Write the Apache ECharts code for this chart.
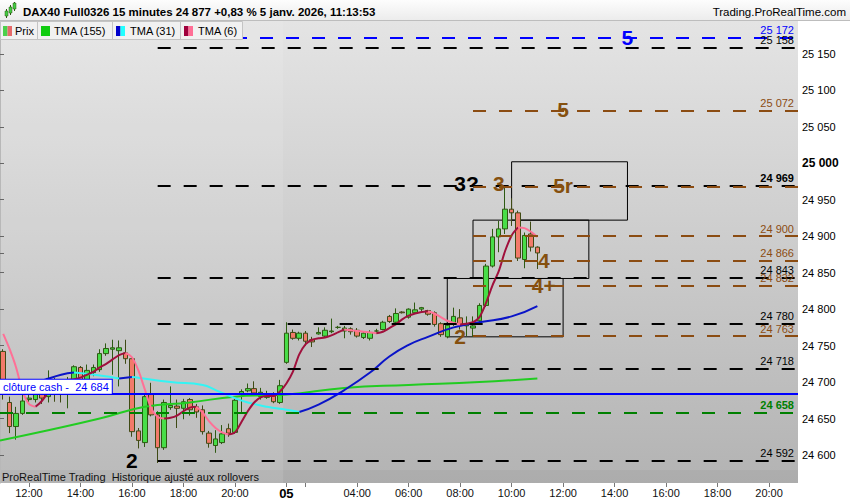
<!DOCTYPE html>
<html><head><meta charset="utf-8">
<script src="https://cdn.jsdelivr.net/npm/echarts@6/dist/echarts.min.js"></script>
<style>html,body{margin:0;padding:0;background:#fff}#c{width:850px;height:500px}</style>
</head><body><div id="c"></div>
<script>
const FONT = '"Liberation Sans", Arial, sans-serif';

// ---------- categories (15-minute bars, two sessions) ----------
function pad(n){ return (n < 10 ? '0' : '') + n; }
function buildTimes(day, h, m, count){
  const out = []; let t = h * 60 + m;
  for (let k = 0; k < count; k++) { out.push(day + ' ' + pad(Math.floor(t / 60)) + ':' + pad(t % 60)); t += 15; }
  return out;
}
const categories = buildTimes('02', 11, 0, 44).concat(buildTimes('05', 1, 15, 80));
const DAY2_START = 44;

// ---------- candles ----------
const candleOpen  = [24742,24672,24639,24657,24676,24676,24683,24680,24700,24690,24688,24703,24720,24703,24713,24717,24739,24745,24743,24740,24732,24633,24617,24683,24655,24610,24665,24667,24664,24676,24666,24662,24630,24613,24617,24636,24631,24683,24688,24691,24680,24679,24681,24672,24727,24768,24760,24767,24758,24766,24763,24769,24775,24770,24773,24771,24761,24760,24770,24772,24790,24782,24796,24789,24795,24800,24798,24795,24780,24762,24781,24788,24777,24774,24784,24805,24859,24899,24910,24937,24932,24868,24903,24885];
const candleClose = [24683,24639,24657,24674,24678,24683,24678,24705,24690,24685,24695,24721,24703,24716,24720,24739,24746,24747,24747,24732,24632,24620,24680,24655,24610,24672,24668,24664,24673,24662,24659,24632,24616,24622,24629,24630,24675,24687,24691,24685,24686,24684,24673,24695,24767,24760,24767,24756,24755,24768,24771,24770,24775,24774,24769,24763,24767,24768,24770,24782,24783,24794,24795,24800,24799,24802,24793,24779,24765,24778,24790,24779,24779,24777,24805,24859,24899,24910,24937,24932,24870,24901,24885,24877];
const candleLow   = [24676,24630,24621,24655,24672,24672,24670,24672,24673,24672,24664,24695,24690,24698,24708,24714,24736,24710,24694,24725,24625,24609,24611,24653,24589,24607,24662,24637,24649,24654,24651,24628,24610,24603,24615,24625,24629,24659,24686,24681,24676,24677,24671,24670,24725,24758,24757,24750,24748,24765,24761,24767,24773,24760,24765,24761,24759,24757,24766,24771,24781,24781,24794,24787,24794,24795,24791,24776,24762,24760,24777,24772,24763,24762,24779,24803,24857,24878,24903,24914,24866,24856,24879,24855];
const candleHigh  = [24745,24680,24666,24683,24685,24690,24690,24716,24706,24692,24707,24723,24722,24724,24724,24745,24753,24758,24757,24758,24734,24637,24683,24699,24660,24676,24694,24676,24677,24678,24670,24668,24633,24634,24641,24643,24677,24690,24698,24701,24692,24688,24686,24703,24782,24772,24769,24770,24762,24775,24775,24787,24777,24777,24775,24774,24769,24771,24773,24784,24792,24801,24797,24801,24809,24803,24799,24797,24782,24780,24802,24800,24790,24790,24808,24862,24910,24921,24969,24952,24935,24905,24920,24886];
const lastPrice = 24877;

// ---------- moving averages ----------
const tma6 = [24766,24745,24720,24688,24670,24666,24674,24686,24695,24701,24703,24704,24706,24710,24714,24720,24725,24731,24737,24740,24734,24716,24690,24664,24652,24650,24651,24654,24660,24665,24666,24658,24646,24637,24631,24628,24631,24645,24660,24672,24679,24681,24681,24687,24698,24714,24738,24752,24758,24760,24761,24764,24768,24772,24771,24770,24769,24768,24767,24769,24774,24779,24786,24791,24794,24796,24797,24794,24789,24784,24781,24779,24780,24782,24789,24808,24832,24852,24880,24901,24912,24911,24906,24899];
const tma31Idx = [0,3,6,9,11,15,18,20,21,26,31,33,36,38,41,44,46,49,53,57,60,63,66,70,74,79,83];
const tma31Val = [24690,24696,24702,24710,24713,24709,24705,24707,24706,24700,24696,24689,24678,24672,24666,24662,24659,24669,24689,24713,24735,24751,24762,24775,24782,24790,24804];
const tma155Idx = [0,7,15,22,29,36,44,53,63,74,83];
const tma155Val = [24620,24634,24650,24666,24672,24680,24683,24692,24696,24700,24705];

// ---------- horizontal levels ----------
const levelValues = [25172,25158,25072,24969,24968,24900,24866,24843,24832,24780,24763,24718,24684,24658,24592];
const levelKinds  = ['blue','black','brown','black','brownNoLabel','brown','brown','black','brown','black','brown','black','cash','green','black'];

// ---------- boxes ----------
const boxFrom = [69, 73, 79];
const boxTo   = [87, 91, 97];
const boxLow  = [24762, 24842, 24922];
const boxHigh = [24842, 24922, 25002];

// ---------- annotations ----------
const annotText  = ['2','3?','3','5r','4','4+','2','5','5'];
const annotIdx   = [20,72,77,87,84,84,71,87,97];
const annotValue = [24592,24972,24972,24970,24867,24832,24762,25073,25173];
const annotKinds = ['black','black','brown','brown','brown','brown','brown','brown','blue'];

const priceTicks = [24600,24650,24700,24750,24800,24850,24900,24950,25000,25050,25100,25150];
const Y_MIN = 24561.6, Y_MAX = 25195;

// ---------- styles ----------
const BROWN = '#85500f';
const ANNOT_COLORS = {black:'#000000', brown:BROWN, blue:'#0000ff'};
const LEVEL_STYLE = {
  blue:  {color:'#0000ff', type:[13,13], from:0,    label:true,  bold:false},
  black: {color:'#000000', type:[13,13], from:24.5, label:true,  bold:false},
  brown: {color:'#8b4c12', type:[13,13], from:73.5, label:true,  bold:false},
  brownNoLabel: {color:'#8b4c12', type:[13,13], from:73.5, label:false, bold:false},
  green: {color:'#008000', type:[13,13], from:0,    label:true,  bold:true},
  cash:  {color:'#0000ff', type:'solid', from:0,    label:true,  bold:false}
};
function fmt(v){ const s = String(Math.round(v)); return s.slice(0, s.length - 3) + ' ' + s.slice(-3); }

function splitRuns(pos, vals){
  const up = [], down = [];
  for (let k = 1; k < vals.length; k++) {
    const rising = vals[k] >= vals[k - 1];
    const target = rising ? up : down;
    const last = target[target.length - 1];
    if (!last || last[0] !== pos[k - 1] || last[1] === '-') {
      if (target.length) target.push([pos[k - 1], '-']);
      target.push([pos[k - 1], vals[k - 1]]);
    }
    target.push([pos[k], vals[k]]);
  }
  return {up, down};
}

const candleData = candleOpen.map((o, i) => [o, candleClose[i], candleLow[i], candleHigh[i]]);
const tma6Runs = splitRuns(tma6.map((v, i) => i + 0.5), tma6);
const tma31Runs = splitRuns(tma31Idx.map(i => i + 0.5), tma31Val);
const tma155Data = tma155Idx.map((i, k) => [i === 0 ? 0 : i + 0.5, tma155Val[k]]);

const levelLines = [], cashLines = [];
levelValues.forEach((v, k) => {
  const kind = levelKinds[k], st = LEVEL_STYLE[kind];
  if (kind === 'cash') {
    cashLines.push([{coord:[st.from, v], lineStyle:{color:st.color, width:2, type:'solid'},
      label:{show:true, position:'insideStartTop', distance:[0,0], formatter:'clôture cash -  ' + fmt(v),
        color:'#0000ff', fontSize:11, fontFamily:FONT, backgroundColor:'#ffffff', borderColor:'#0000ff',
        borderWidth:1, padding:[2,3,1,3]}}, {coord:[124, v]}]);
    return;
  }
  levelLines.push([{coord:[st.from, v], lineStyle:{color:st.color, width:2, type:st.type},
    label:{show:st.label, position:'insideEndTop', distance:[4,2], formatter:fmt(v), color:st.color,
      fontSize:11, fontFamily:FONT, fontWeight:(st.bold || v === 24969) ? 'bold' : 'normal'}}, {coord:[124, v]}]);
});

const boxAreas = boxFrom.map((f, k) => [{coord:[f + 0.5, boxLow[k]]}, {coord:[boxTo[k] + 0.5, boxHigh[k]]}]);

function isTickIdx(idx){
  const c = categories[idx]; if (!c) return false;
  if (idx === DAY2_START) return true;
  const hm = c.split(' ')[1].split(':');
  return hm[1] === '00' && (+hm[0]) % 2 === 0;
}
function isLabelIdx(idx){
  if (!isTickIdx(idx)) return false;
  const c = categories[idx];
  return !(c.startsWith('05') && c.endsWith('02:00'));
}

const chart = echarts.init(document.getElementById('c'), null, {renderer:'svg'});

const graphic = [
  {type:'rect', z:100, shape:{x:0, y:0, width:850, height:20},
    style:{fill:new echarts.graphic.LinearGradient(0,0,0,1,[{offset:0,color:'#fdfdfd'},{offset:1,color:'#ececec'}])}},
  {type:'line', z:101, shape:{x1:0, y1:20.5, x2:850, y2:20.5}, style:{stroke:'#bdbdbd', lineWidth:1}},
  // small candle icon
  {type:'line', z:102, shape:{x1:6.5, y1:9, x2:6.5, y2:18}, style:{stroke:'#2e5a12', lineWidth:1}},
  {type:'rect', z:103, shape:{x:5, y:11, width:3, height:5}, style:{fill:'#44cc44', stroke:'#2e5a12', lineWidth:0.5}},
  {type:'line', z:102, shape:{x1:10.5, y1:5, x2:10.5, y2:15}, style:{stroke:'#2e5a12', lineWidth:1}},
  {type:'rect', z:103, shape:{x:9, y:7, width:3, height:6}, style:{fill:'#44cc44', stroke:'#2e5a12', lineWidth:0.5}},
  {type:'line', z:102, shape:{x1:14.5, y1:2, x2:14.5, y2:11}, style:{stroke:'#2e5a12', lineWidth:1}},
  {type:'rect', z:103, shape:{x:13, y:3, width:3, height:6}, style:{fill:'#44cc44', stroke:'#2e5a12', lineWidth:0.5}},
  {type:'text', z:103, x:23, y:12, style:{text:'DAX40 Full0326 15 minutes 24 877 +0,83 % 5 janv. 2026, 11:13:53',
    font:'bold 11.5px ' + FONT, fill:'#000', verticalAlign:'middle'}},
  {type:'text', z:103, x:846, y:12, style:{text:'Trading.ProRealTime.com', font:'11.5px ' + FONT, fill:'#000',
    align:'right', verticalAlign:'middle'}},
  // legend row
  {type:'rect', z:100, shape:{x:0.5, y:21.5, width:242, height:18}, style:{fill:'#f1f1f1', stroke:'#c4c4c4', lineWidth:1}},
  {type:'line', z:101, shape:{x1:37.5, y1:21, x2:37.5, y2:40}, style:{stroke:'#c4c4c4', lineWidth:1}},
  {type:'line', z:101, shape:{x1:112.5, y1:21, x2:112.5, y2:40}, style:{stroke:'#c4c4c4', lineWidth:1}},
  {type:'line', z:101, shape:{x1:180.5, y1:21, x2:180.5, y2:40}, style:{stroke:'#c4c4c4', lineWidth:1}},
  {type:'rect', z:102, shape:{x:3, y:26, width:4.5, height:10}, style:{fill:'#4bd04b'}},
  {type:'rect', z:102, shape:{x:7.5, y:26, width:4.5, height:10}, style:{fill:'#e66a6a'}},
  {type:'rect', z:102, shape:{x:41, y:26, width:9, height:10}, style:{fill:'#11cc11'}},
  {type:'rect', z:102, shape:{x:116, y:26, width:4.5, height:10}, style:{fill:'#0000cc'}},
  {type:'rect', z:102, shape:{x:120.5, y:26, width:4.5, height:10}, style:{fill:'#22ffff'}},
  {type:'rect', z:102, shape:{x:184, y:26, width:4.5, height:10}, style:{fill:'#a0003c'}},
  {type:'rect', z:102, shape:{x:188.5, y:26, width:4.5, height:10}, style:{fill:'#ff6f96'}},
  {type:'text', z:103, x:15, y:31, style:{text:'Prix', font:'11px ' + FONT, fill:'#000', verticalAlign:'middle'}},
  {type:'text', z:103, x:54, y:31, style:{text:'TMA (155)', font:'11px ' + FONT, fill:'#000', verticalAlign:'middle'}},
  {type:'text', z:103, x:130, y:31, style:{text:'TMA (31)', font:'11px ' + FONT, fill:'#000', verticalAlign:'middle'}},
  {type:'text', z:103, x:198, y:31, style:{text:'TMA (6)', font:'11px ' + FONT, fill:'#000', verticalAlign:'middle'}},
  // bottom band
  {type:'rect', z:0, shape:{x:0, y:470, width:798, height:13}, style:{fill:'rgba(120,120,120,0.10)'}},
  {type:'text', z:103, x:2, y:477, style:{text:'ProRealTime Trading  Historique ajusté aux rollovers', font:'11px ' + FONT,
    fill:'#111', verticalAlign:'middle'}}
];

const option = {
  animation:false,
  graphic:graphic,
  grid:{left:0, right:52, top:21, bottom:17, show:true, borderWidth:0,
    backgroundColor:new echarts.graphic.LinearGradient(0,0,0,1,[{offset:0,color:'#e4e4e4'},{offset:1,color:'#b3b3b3'}])},
  xAxis:[
    {type:'category', data:categories, boundaryGap:true,
      axisLine:{show:false},
      axisTick:{show:true, length:4, alignWithLabel:true, interval:(i) => isTickIdx(i), lineStyle:{color:'#777'}},
      axisLabel:{interval:(i) => isLabelIdx(i), margin:4, color:'#111', fontSize:11, fontFamily:FONT,
        formatter:(v, i) => i === DAY2_START ? '{b|05}' : v.split(' ')[1],
        rich:{b:{fontWeight:'bold', fontSize:13, fontFamily:FONT, color:'#000'}}},
      splitLine:{show:false}},
    {type:'value', min:0, max:124, show:false}
  ],
  yAxis:[{type:'value', position:'right', min:Y_MIN, max:Y_MAX, scale:true,
    axisLine:{show:true, lineStyle:{color:'#b0b0b0'}},
    axisTick:{show:true, length:4, customValues:priceTicks.concat([lastPrice]), lineStyle:{color:'#555'}},
    axisLabel:{customValues:priceTicks, margin:4, color:'#000', fontSize:11, fontFamily:FONT,
      formatter:(v) => v === 25000 ? '{b|' + fmt(v) + '}' : fmt(v),
      rich:{b:{fontWeight:'bold', fontSize:12, fontFamily:FONT, color:'#000'}}},
    splitLine:{show:false}}],
  series:[
    {name:'levels', type:'line', xAxisIndex:1, data:[], z:1, silent:true,
      markArea:{silent:true, data:[
        [{coord:[0, Y_MIN], itemStyle:{color:'rgba(255,255,255,0.10)', borderWidth:0}}, {coord:[DAY2_START, Y_MAX]}]
      ].concat(boxAreas.map(b => [{coord:b[0].coord, itemStyle:{color:'rgba(0,0,0,0)', borderColor:'#000', borderWidth:1}}, b[1]]))},
      markLine:{silent:true, symbol:['none','none'], data:levelLines}},
    {name:'Prix', type:'candlestick', data:candleData, barWidth:5, z:3,
      itemStyle:{color:'#48dd48', color0:'#f27a6a', borderColor:'#2e5a12', borderColor0:'#3f4a14', borderWidth:1},
      markLine:{silent:true, symbol:['none','none'], data:[{yAxis:lastPrice, lineStyle:{width:0, opacity:0},
        label:{show:true, position:'end', distance:6, formatter:fmt(lastPrice), color:'#000', fontSize:12, fontFamily:FONT,
          backgroundColor:'#f7c600', borderColor:'#999', borderWidth:1, padding:[1,2,0,2]}}]}},
    {name:'TMA (155)', type:'line', xAxisIndex:1, data:tma155Data, smooth:true, showSymbol:false, z:4,
      lineStyle:{color:'#22cc22', width:2}},
    {name:'TMA31 up', type:'line', xAxisIndex:1, data:tma31Runs.up, smooth:true, showSymbol:false, z:4,
      lineStyle:{color:'#0a14c8', width:2}},
    {name:'TMA31 down', type:'line', xAxisIndex:1, data:tma31Runs.down, smooth:true, showSymbol:false, z:4,
      lineStyle:{color:'#33f4f4', width:2}},
    {name:'TMA6 up', type:'line', xAxisIndex:1, data:tma6Runs.up, smooth:0.3, showSymbol:false, z:4,
      lineStyle:{color:'#a0103c', width:2}},
    {name:'TMA6 down', type:'line', xAxisIndex:1, data:tma6Runs.down, smooth:0.3, showSymbol:false, z:4,
      lineStyle:{color:'#ff7096', width:2}},
    {name:'cash', type:'line', xAxisIndex:1, data:[], z:6, silent:true,
      markLine:{silent:true, symbol:['none','none'], data:cashLines}},
    {name:'annotations', type:'scatter', xAxisIndex:1, symbolSize:1, z:7, silent:true,
      itemStyle:{color:'rgba(0,0,0,0)', opacity:1},
      label:{show:true, position:'inside', fontSize:21, fontWeight:'bold', fontFamily:FONT, opacity:1,
        textBorderWidth:0, textBorderColor:'transparent', textShadowBlur:0,
        formatter:(p) => annotText[p.dataIndex]},
      labelLayout:{hideOverlap:false},
      data:annotText.map((t, k) => ({value:[annotIdx[k] + 0.5, annotValue[k]],
        label:{color:ANNOT_COLORS[annotKinds[k]], textBorderWidth:0}}))}
  ]
};
chart.setOption(option);
</script>
</body></html>
